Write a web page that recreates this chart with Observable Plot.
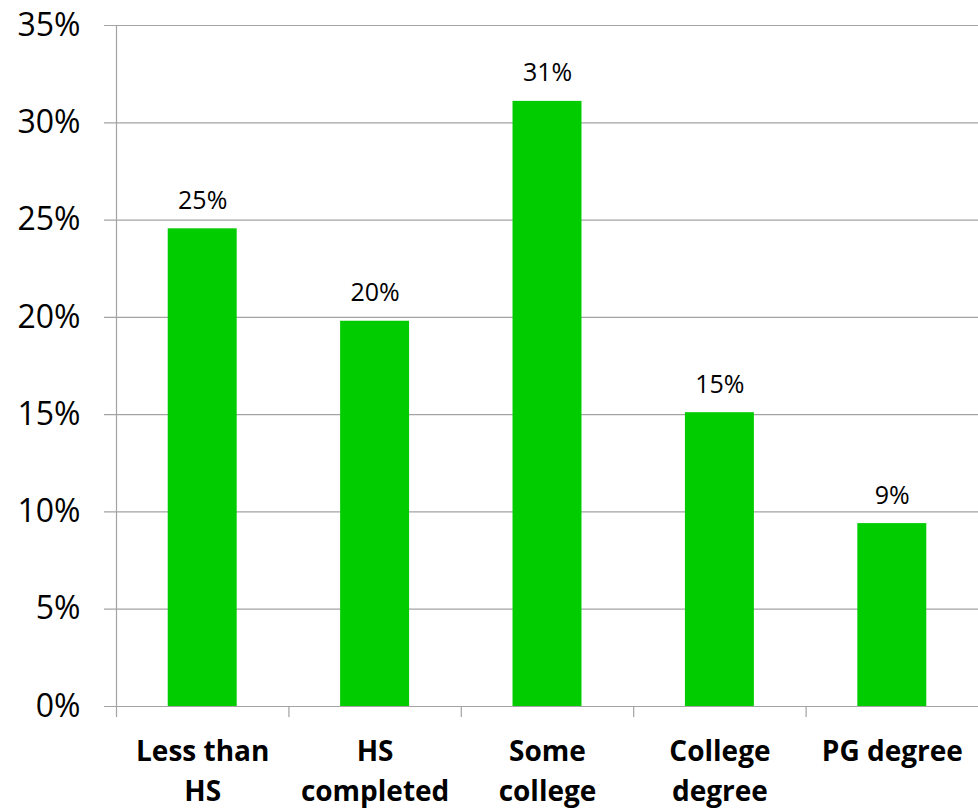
<!DOCTYPE html>
<html>
<head>
<meta charset="utf-8">
<script src="https://cdn.jsdelivr.net/npm/d3@7"></script>
<script src="https://cdn.jsdelivr.net/npm/@observablehq/plot@0.6"></script>
<style>
  html, body { margin: 0; padding: 0; background: #fff; }
  #chart { width: 978px; height: 809px; }
</style>
</head>
<body>
<div id="chart"></div>
<script>
// Share of respondents by highest level of education
const categories = ["Less than HS", "HS completed", "Some college", "College degree", "PG degree"];
const values = [0.2455, 0.198, 0.311, 0.151, 0.094];
const tickLabels = ["Less than\nHS", "HS\ncompleted", "Some\ncollege", "College\ndegree", "PG degree"];
const yTicks = [0, 0.05, 0.10, 0.15, 0.20, 0.25, 0.30, 0.35];

const data = categories.map((category, i) => ({category, value: values[i]}));

const width = 978, height = 809;
const marginLeft = 116, marginRight = 0, marginTop = 25, marginBottom = 103;
const step = (width - marginLeft - marginRight) / categories.length;
const plotHeight = height - marginTop - marginBottom;
const gridColor = "#a3a3a3";
const pct = d3.format(".0%");

const chart = Plot.plot({
  width, height, marginLeft, marginRight, marginTop, marginBottom,
  style: {fontFamily: "'Open Sans', sans-serif", color: "#000", background: "#fff"},
  x: {domain: categories, paddingInner: 0.6, paddingOuter: 0.3, round: false, label: null},
  y: {domain: [0, 0.35], label: null},
  marks: [
    // horizontal gridlines, extending left of the axis as tick marks
    Plot.ruleY(yTicks, {stroke: gridColor, strokeWidth: 1.2, insetLeft: -12}),
    // vertical axis line at the left edge of the first band
    Plot.ruleX(categories.slice(0, 1), {dx: -step / 2, stroke: gridColor, strokeWidth: 1.2, insetBottom: -11}),
    // small tick marks between categories below the baseline
    Plot.ruleX(categories.slice(1), {dx: -step / 2, stroke: gridColor, strokeWidth: 1.2, insetTop: plotHeight, insetBottom: -11}),
    Plot.barY(data, {x: "category", y: "value", fill: "#00cc00"}),
    Plot.text(data, {
      x: "category", y: "value", text: d => pct(d.value),
      lineAnchor: "bottom", dy: -20, fontSize: 25, fill: "#000"
    }),
    Plot.axisY({ticks: yTicks, tickFormat: pct, tickSize: 0, tickPadding: 36, fontSize: 32, fill: "#000", label: null}),
    Plot.axisX({
      tickSize: 0, tickPadding: 26,
      tickFormat: d => tickLabels[categories.indexOf(d)],
      fontSize: 28, fontWeight: "bold", lineHeight: 1.43, fill: "#000", label: null
    })
  ]
});

document.getElementById("chart").appendChild(chart);
</script>
</body>
</html>
